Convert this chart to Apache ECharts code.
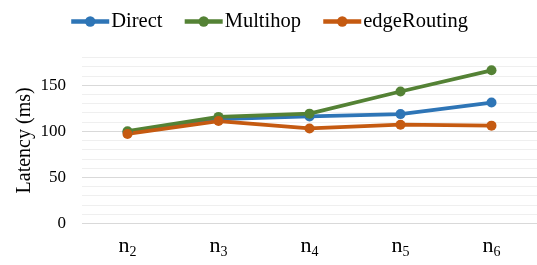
<!DOCTYPE html>
<html><head><meta charset="utf-8">
<script src="https://cdn.jsdelivr.net/npm/echarts@6/dist/echarts.min.js"></script>
<style>html,body{margin:0;padding:0;background:#fff}#c{width:537px;height:265px}</style>
</head><body><div id="c"></div>
<script>
const categories = ['2','3','4','5','6'];
const direct = [99, 113, 116, 118.5, 131];
const multihop = [100, 115.5, 119, 143, 166];
const edgeRouting = [97, 111, 103, 107, 106];
const seriesNames = ['Direct','Multihop','edgeRouting'];
const colors = ['#2E75B6','#548235','#C55A11'];
const font = 'Liberation Serif';
const chart = echarts.init(document.getElementById('c'));
function mk(name, data, color){
  return {name, type:'line', data, symbol:'circle', symbolSize:10,
    itemStyle:{color}, lineStyle:{color, width:3.8}};
}
chart.setOption({
  animation:false,
  textStyle:{fontFamily:font},
  legend:{top:6, left:'center', itemWidth:38, itemHeight:13, itemGap:20,
    lineStyle:{width:4.5},
    textStyle:{fontFamily:font, fontSize:20.5, color:'#000', padding:[0,0,0,-3]},
    data:seriesNames},
  grid:{left:82, right:-8, top:57.4, bottom:41.6},
  xAxis:{type:'category', data:categories, boundaryGap:true,
    axisLine:{show:false}, axisTick:{show:false},
    axisLabel:{margin:12, formatter:v=>'{n|n}{s|'+v+'}',
      rich:{n:{fontFamily:font, fontSize:22, color:'#000', verticalAlign:'bottom'},
            s:{fontFamily:font, fontSize:14, color:'#000', verticalAlign:'bottom', padding:[0,0,-2,0]}}}},
  yAxis:{type:'value', min:0, max:180, interval:10,
    name:'Latency (ms)', nameLocation:'middle', nameGap:47, nameMoveOverlap:false,
    nameTextStyle:{fontFamily:font, fontSize:20, color:'#000'},
    axisLine:{show:false}, axisTick:{show:false},
    axisLabel:{fontFamily:font, fontSize:17, color:'#000', margin:16,
      formatter:v=>(v%50===0?String(v):'')},
    splitLine:{lineStyle:{width:1.2, color:['#d9d9d9','#efefef','#efefef','#efefef','#efefef']}}},
  series:[mk(seriesNames[0], direct, colors[0]), mk(seriesNames[1], multihop, colors[1]), mk(seriesNames[2], edgeRouting, colors[2])]
});
</script></body></html>
